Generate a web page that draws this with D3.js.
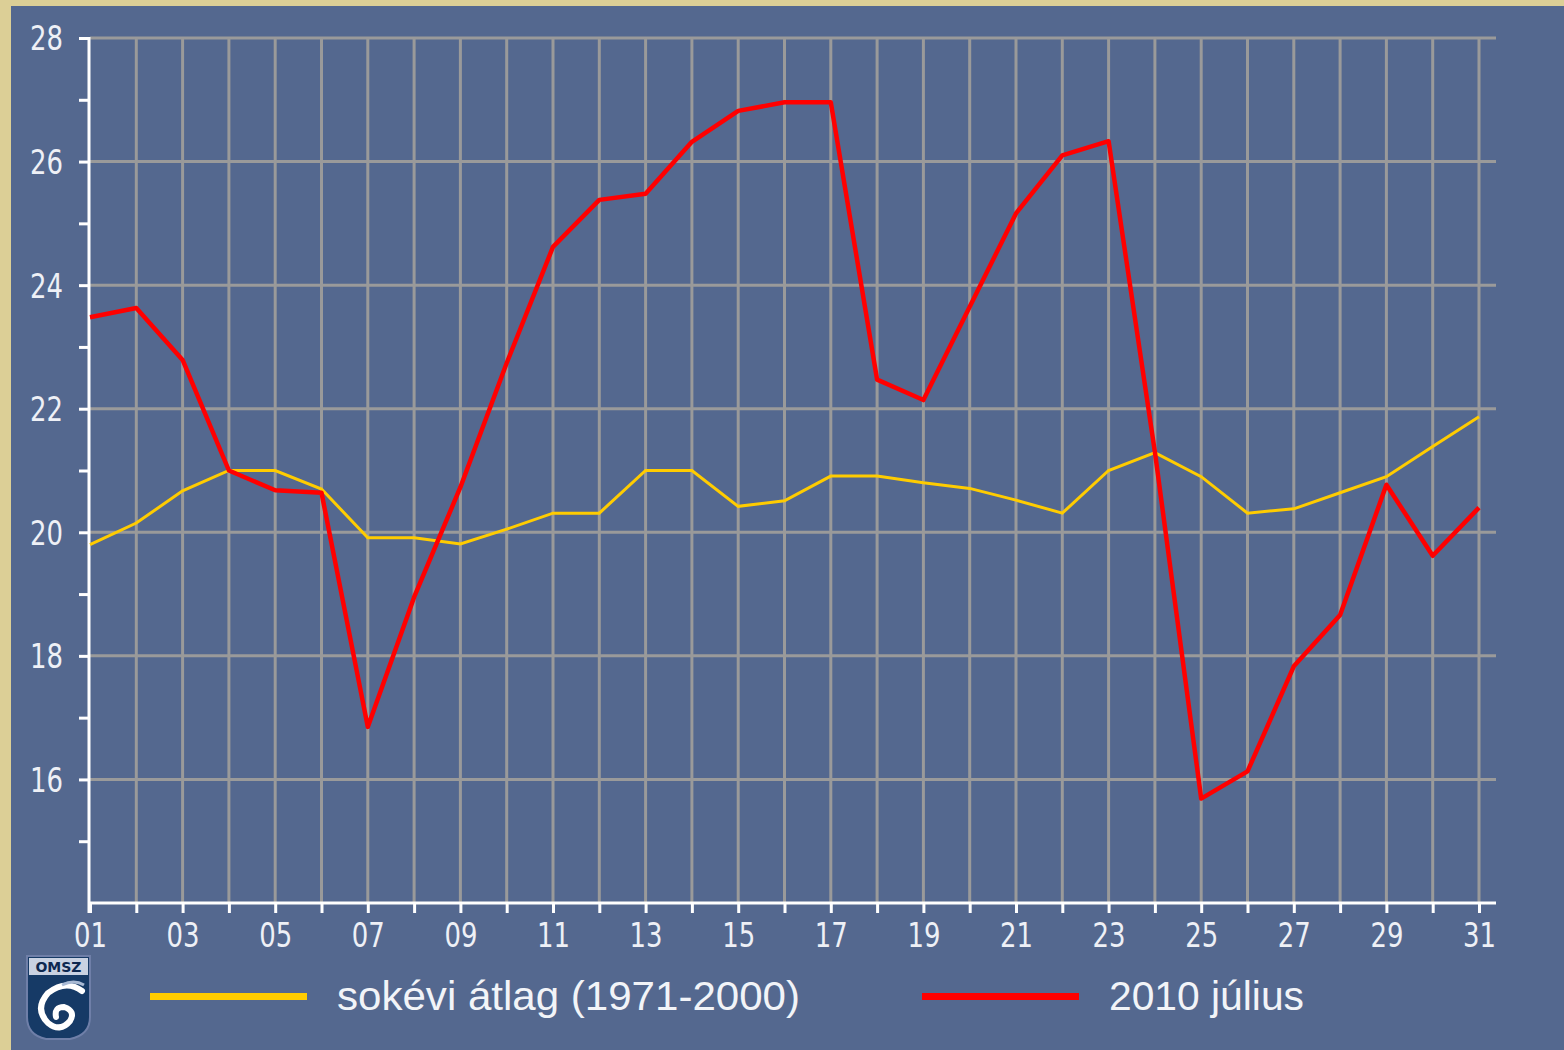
<!DOCTYPE html>
<html>
<head>
<meta charset="utf-8">
<script src="https://cdn.jsdelivr.net/npm/d3@7"></script>
<style>
  body { margin: 0; background: #54688f; }
  svg { display: block; }
</style>
</head>
<body>
<svg width="1564" height="1050"></svg>
<script>
// napok (x tengely)
var days = d3.range(1, 32);
var dayLabels = ["01","03","05","07","09","11","13","15","17","19","21","23","25","27","29","31"];
var yTickLabels = [16, 18, 20, 22, 24, 26, 28];

// sokévi átlag (1971-2000)
var avgValues = [19.8, 20.15, 20.67, 21.0, 21.0, 20.7, 19.91, 19.91, 19.81, 20.05,
                 20.31, 20.31, 21.0, 21.0, 20.42, 20.51, 20.91, 20.91, 20.8, 20.71,
                 20.52, 20.31, 21.0, 21.29, 20.9, 20.31, 20.38, 20.64, 20.9, 21.39, 21.87];

// 2010 július
var julyValues = [23.48, 23.63, 22.79, 21.0, 20.68, 20.64, 16.85, 18.95, 20.73, 22.74,
                  24.62, 25.38, 25.48, 26.32, 26.82, 26.96, 26.96, 22.47, 22.14, 23.65,
                  25.16, 26.1, 26.33, 21.3, 15.69, 16.13, 17.83, 18.66, 20.77, 19.62, 20.4];

var legendNames = ["sokévi átlag (1971-2000)", "2010 július"];
var lineColors = ["#ffcc00", "#ff0000"];

var svg = d3.select("svg");

svg.append("rect")
   .attr("width", 1564).attr("height", 1050)
   .style("fill", "#54688f");
// keret
svg.append("rect").attr("x", 0).attr("y", 0).attr("width", 11).attr("height", 1050).style("fill", "#dccf96");
svg.append("rect").attr("x", 0).attr("y", 0).attr("width", 1564).attr("height", 6).style("fill", "#dccf96");

var x = d3.scaleLinear().domain([1, 31]).range([90, 1479]);
var y = d3.scaleLinear().domain([14, 28]).range([903, 38]);
var right = 1496;

var g = svg.append("g");

// racs
g.selectAll(".hgrid")
 .data(yTickLabels)
 .enter().append("line")
 .attr("x1", x(1)).attr("x2", right)
 .attr("y1", function(d) { return y(d); })
 .attr("y2", function(d) { return y(d); })
 .style("stroke", "#9a9a9a")
 .style("stroke-width", 3);

g.selectAll(".vgrid")
 .data(days.slice(1))
 .enter().append("line")
 .attr("x1", function(d) { return x(d); })
 .attr("x2", function(d) { return x(d); })
 .attr("y1", y(28)).attr("y2", y(14))
 .style("stroke", "#9a9a9a")
 .style("stroke-width", 3);

// tengelyek
var yAxis = d3.axisLeft(y)
    .tickValues(d3.range(15, 29))
    .tickSize(10)
    .tickFormat(function(d) { return d % 2 == 0 && d >= 16 ? d : ""; });

var ya = g.append("g")
 .attr("transform", "translate(" + (x(1) - 1) + ",0)")
 .call(yAxis);

var xAxis = d3.axisBottom(x)
    .tickValues(days)
    .tickSize(10)
    .tickFormat(function(d) { return d % 2 == 1 ? dayLabels[(d - 1) / 2] : ""; });

var xa = g.append("g")
 .attr("transform", "translate(0," + y(14) + ")")
 .call(xAxis);

[ya, xa].forEach(function(a) {
  a.select(".domain").remove();
  a.selectAll(".tick line").style("stroke", "#ffffff").style("stroke-width", 3);
  a.selectAll(".tick text")
   .style("fill", "#eef0f6")
   .style("font-family", "DejaVu Sans, Verdana, sans-serif")
   .style("font-size", "33px")
   .attr("textLength", function() { return this.textContent ? 33 : null; })
   .attr("lengthAdjust", "spacingAndGlyphs");
});
ya.selectAll(".tick text").attr("x", -26).attr("dy", "0.36em");
xa.selectAll(".tick text").attr("y", 19).attr("dy", "0.75em");

g.append("line")
 .attr("x1", x(1) - 1).attr("x2", x(1) - 1)
 .attr("y1", y(28) - 1).attr("y2", y(14) + 10)
 .style("stroke", "#ffffff").style("stroke-width", 3);
g.append("line")
 .attr("x1", x(1) - 2).attr("x2", right)
 .attr("y1", y(14)).attr("y2", y(14))
 .style("stroke", "#ffffff").style("stroke-width", 3);

// vonalak
var line = d3.line()
    .x(function(d, i) { return x(days[i]); })
    .y(function(d) { return y(d); });

g.append("path")
 .datum(avgValues)
 .attr("d", line)
 .style("fill", "none")
 .style("stroke", lineColors[0])
 .style("stroke-width", 3);

g.append("path")
 .datum(julyValues)
 .attr("d", line)
 .style("fill", "none")
 .style("stroke", lineColors[1])
 .style("stroke-width", 4.5)
 .style("stroke-linejoin", "round");

// jelmagyarazat
var legendX = [150, 922];
var textLen = [463, 195];
legendNames.forEach(function(name, i) {
  svg.append("line")
     .attr("x1", legendX[i]).attr("x2", legendX[i] + 157)
     .attr("y1", 996.5).attr("y2", 996.5)
     .style("stroke", lineColors[i])
     .style("stroke-width", 7);
  svg.append("text")
     .attr("x", legendX[i] + 187)
     .attr("y", 1010)
     .attr("textLength", textLen[i])
     .attr("lengthAdjust", "spacingAndGlyphs")
     .style("fill", "#f2f4f8")
     .style("font-family", "Liberation Sans, Arial, sans-serif")
     .style("font-size", "40px")
     .text(name);
});

// OMSZ logo
var logo = svg.append("g").attr("transform", "translate(26,955)");
logo.append("path")
    .attr("d", "M1,1 L64,1 L64,62 Q64,80 44,84 L20,84 Q1,80 1,62 Z")
    .style("fill", "#163a66")
    .style("stroke", "#6f7fa8")
    .style("stroke-width", 2);
logo.append("rect").attr("x", 3).attr("y", 3).attr("width", 59).attr("height", 17).style("fill", "#c9d2e2");
logo.append("text")
    .attr("x", 32.5).attr("y", 17)
    .attr("text-anchor", "middle")
    .style("fill", "#0d2850")
    .style("font-family", "DejaVu Sans, sans-serif")
    .style("font-weight", "bold")
    .style("font-size", "14px")
    .text("OMSZ");
logo.append("path")
    .attr("d", "M56,36 Q40,24 22,38 Q8,54 22,68 Q34,78 44,66 Q50,56 38,52 Q28,52 30,62")
    .style("fill", "none")
    .style("stroke", "#ffffff")
    .style("stroke-width", 6)
    .style("stroke-linecap", "round");
logo.append("path")
    .attr("d", "M36,30 Q48,24 58,30")
    .style("fill", "none")
    .style("stroke", "#a9bad4")
    .style("stroke-width", 3);
</script>
</body>
</html>
